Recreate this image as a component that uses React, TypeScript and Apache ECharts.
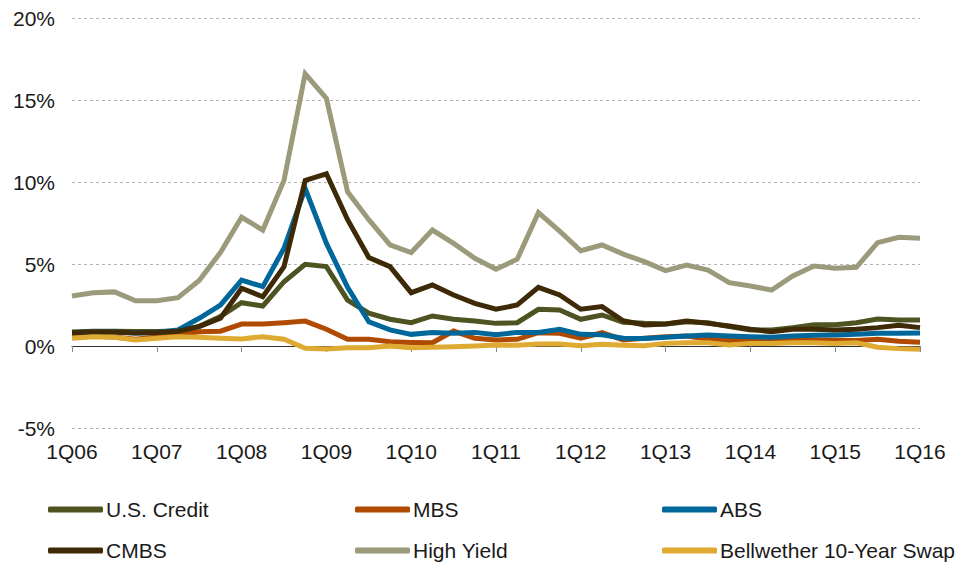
import React, { useEffect, useRef } from "react";
import * as echarts from "echarts";

const quarters = [
  "1Q06", "2Q06", "3Q06", "4Q06",
  "1Q07", "2Q07", "3Q07", "4Q07",
  "1Q08", "2Q08", "3Q08", "4Q08",
  "1Q09", "2Q09", "3Q09", "4Q09",
  "1Q10", "2Q10", "3Q10", "4Q10",
  "1Q11", "2Q11", "3Q11", "4Q11",
  "1Q12", "2Q12", "3Q12", "4Q12",
  "1Q13", "2Q13", "3Q13", "4Q13",
  "1Q14", "2Q14", "3Q14", "4Q14",
  "1Q15", "2Q15", "3Q15", "4Q15",
  "1Q16",
];

const usCredit = [
  0.85, 0.9, 0.9, 0.88, 0.88, 0.92, 1.2, 1.8, 2.64, 2.44, 3.92, 4.98, 4.84,
  2.8, 2.0, 1.63, 1.42, 1.83, 1.63, 1.52, 1.38, 1.42, 2.24, 2.2, 1.63, 1.89,
  1.45, 1.38, 1.34, 1.48, 1.42, 1.18, 0.98, 0.98, 1.12, 1.3, 1.3, 1.42, 1.65,
  1.59, 1.59,
];

const mbs = [
  0.57, 0.6, 0.55, 0.41, 0.55, 0.7, 0.87, 0.9, 1.34, 1.34, 1.42, 1.52, 1.02,
  0.41, 0.41, 0.26, 0.22, 0.2, 0.91, 0.47, 0.37, 0.41, 0.81, 0.77, 0.47, 0.81,
  0.37, 0.47, 0.57, 0.61, 0.41, 0.33, 0.41, 0.41, 0.41, 0.37, 0.35, 0.33, 0.41,
  0.29, 0.23,
];

const abs = [
  0.82, 0.86, 0.86, 0.8, 0.82, 0.98, 1.69, 2.5, 4.02, 3.62, 5.96, 9.6, 6.26,
  3.58, 1.48, 0.98, 0.71, 0.83, 0.77, 0.83, 0.69, 0.83, 0.83, 1.02, 0.71, 0.69,
  0.47, 0.45, 0.53, 0.61, 0.67, 0.61, 0.57, 0.53, 0.61, 0.65, 0.67, 0.71, 0.77,
  0.77, 0.79,
];

const cmbs = [
  0.81, 0.85, 0.85, 0.8, 0.82, 0.9, 1.18, 1.69, 3.52, 3.0, 4.84, 10.1, 10.5,
  7.7, 5.4, 4.84, 3.25, 3.72, 3.11, 2.6, 2.24, 2.5, 3.58, 3.11, 2.24, 2.4, 1.54,
  1.28, 1.34, 1.52, 1.38, 1.22, 1.02, 0.87, 1.02, 1.02, 0.98, 1.02, 1.12, 1.26,
  1.12,
];

const highYield = [
  3.05, 3.25, 3.3, 2.76, 2.76, 2.95, 4.0, 5.7, 7.85, 7.07, 10.1, 16.6, 15.1,
  9.4, 7.7, 6.16, 5.7, 7.07, 6.26, 5.35, 4.68, 5.29, 8.13, 7.0, 5.81, 6.16,
  5.6, 5.14, 4.6, 4.94, 4.63, 3.86, 3.66, 3.41, 4.27, 4.88, 4.74, 4.8, 6.3,
  6.63, 6.57,
];

const swap = [
  0.47, 0.57, 0.53, 0.37, 0.47, 0.57, 0.53, 0.47, 0.43, 0.57, 0.41, -0.14,
  -0.18, -0.1, -0.1, 0.0, -0.1, -0.08, -0.04, 0.0, 0.06, 0.04, 0.12, 0.12, 0.02,
  0.1, 0.05, 0.02, 0.16, 0.2, 0.2, 0.06, 0.16, 0.16, 0.2, 0.2, 0.16, 0.2, -0.08,
  -0.16, -0.2,
];

const seriesNames = [
  "U.S. Credit",
  "MBS",
  "ABS",
  "CMBS",
  "High Yield",
  "Bellwether 10-Year Swap",
];
const seriesData = [usCredit, mbs, abs, cmbs, highYield, swap];
const seriesColors = ["#4f5321", "#b04a00", "#00679a", "#3e2a07", "#9b9a7b", "#dfaa31"];

const FONT = "'Liberation Sans', Arial, Helvetica, sans-serif";

export default function App() {
  const ref = useRef<HTMLDivElement>(null);

  useEffect(() => {
    if (!ref.current) return;
    const chart = echarts.init(ref.current, undefined, { renderer: "svg" });

    const legendPos = [
      { left: 48, top: 499 },
      { left: 355, top: 499 },
      { left: 662, top: 499 },
      { left: 48, top: 540 },
      { left: 355, top: 540 },
      { left: 662, top: 540 },
    ];

    const option: any = {
      animation: false,
      backgroundColor: "#ffffff",
      textStyle: { fontFamily: FONT },
      grid: { left: 72, right: 43, top: 18, bottom: 134, containLabel: false },
      legend: seriesNames.map((name, i) => ({
        data: [name],
        left: legendPos[i].left,
        top: legendPos[i].top,
        icon: "roundRect",
        itemWidth: 55,
        itemHeight: 6,
        itemGap: 0,
        padding: 0,
        selectedMode: false,
        textStyle: { fontFamily: FONT, fontSize: 21, color: "#1a1a1a", padding: [0, 0, 0, -2] },
      })),
      xAxis: {
        type: "category",
        data: quarters,
        boundaryGap: false,
        axisLine: { show: true, lineStyle: { color: "#333333", width: 1.2 } },
        axisTick: {
          show: true,
          interval: 3,
          length: 6,
          lineStyle: { color: "#888888", width: 1 },
        },
        axisLabel: {
          interval: 3,
          margin: 13,
          fontSize: 21,
          fontFamily: FONT,
          color: "#1a1a1a",
        },
        splitLine: { show: false },
      },
      yAxis: {
        type: "value",
        min: -5,
        max: 20,
        interval: 5,
        axisLine: { show: false },
        axisTick: { show: false },
        axisLabel: {
          formatter: "{value}%",
          margin: 17,
          fontSize: 21,
          fontFamily: FONT,
          color: "#1a1a1a",
        },
        splitLine: {
          show: true,
          lineStyle: { color: "#b3b3b3", type: [3, 3], width: 1 },
        },
      },
      series: seriesNames.map((name, i) => ({
        name,
        type: "line",
        data: seriesData[i],
        showSymbol: false,
        symbol: "none",
        lineStyle: { color: seriesColors[i], width: 5, join: "miter", cap: "butt" },
        itemStyle: { color: seriesColors[i] },
        z: 2,
      })),
    };

    chart.setOption(option);
    return () => chart.dispose();
  }, []);

  return (
    <div
      ref={ref}
      style={{ position: "absolute", left: 0, top: 0, width: 963, height: 562 }}
    />
  );
}
